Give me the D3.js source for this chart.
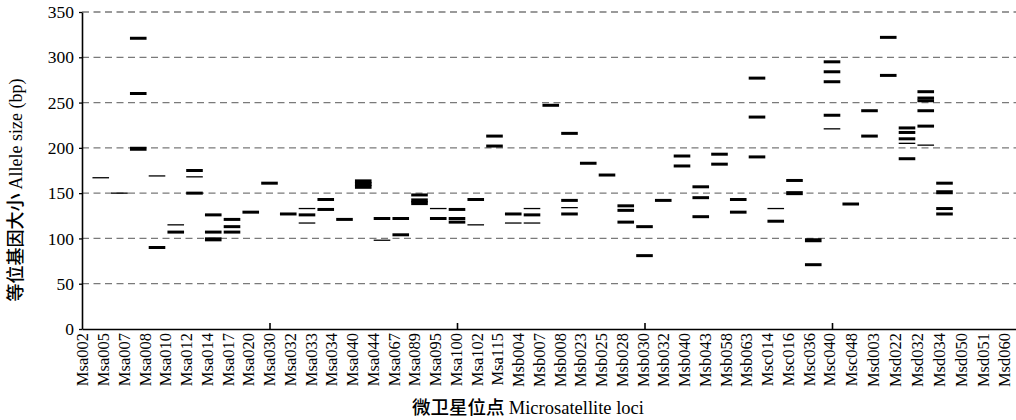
<!DOCTYPE html>
<html>
<head>
<meta charset="utf-8">
<script src="https://cdn.jsdelivr.net/npm/d3@7"></script>
<style>
  body { margin: 0; background: #fff; }
  text { font-family: "Liberation Serif", "Noto Sans CJK SC", serif; fill: #000; }
  .cjk { font-family: "Noto Sans CJK SC", sans-serif; font-weight: 500; }
</style>
</head>
<body>
<svg id="chart" width="1016" height="420"></svg>
<script>
// locus labels along the x axis
const loci = ['Msa002', 'Msa005', 'Msa007', 'Msa008', 'Msa010', 'Msa012', 'Msa014', 'Msa017', 'Msa020',
  'Msa030', 'Msa032', 'Msa033', 'Msa034', 'Msa040', 'Msa044', 'Msa067', 'Msa089', 'Msa095',
  'Msa100', 'Msa102', 'Msa115', 'Msb004', 'Msb007', 'Msb008', 'Msb023', 'Msb025', 'Msb028',
  'Msb030', 'Msb032', 'Msb040', 'Msb043', 'Msb058', 'Msb063', 'Msc014', 'Msc016', 'Msc036',
  'Msc040', 'Msc048', 'Msd003', 'Msd022', 'Msd032', 'Msd034', 'Msd050', 'Msd051', 'Msd060'];

// allele sizes (bp) per column, [size, band class] ; class 1 faint, 2 normal, 3 strong
const alleles = [
  [[167, 1]],
  [[150, 1]],
  [[321, 2], [260, 2], [199, 3]],
  [[169, 1], [90, 2]],
  [[115, 1], [107, 2]],
  [[175, 2], [168, 1], [150, 2]],
  [[126, 2], [107, 2], [99, 3]],
  [[121, 2], [113, 2], [107, 2]],
  [[129, 2]],
  [[161, 2]],
  [[127, 2]],
  [[133, 1], [126, 2], [117, 1]],
  [[143, 2], [132, 2]],
  [[121, 2]],
  [[163, 3], [160, 3], [157, 3]],
  [[122, 2], [98, 1]],
  [[122, 2], [104, 2]],
  [[148, 2], [142, 3], [139, 3]],
  [[133, 1], [122, 2]],
  [[132, 2], [122, 2], [118, 2]],
  [[143, 2], [115, 1]],
  [[213, 2], [202, 2]],
  [[127, 2], [117, 1]],
  [[133, 1], [126, 2], [117, 1]],
  [[247, 2]],
  [[216, 2], [142, 2], [134, 1], [127, 2]],
  [[183, 2]],
  [[170, 2]],
  [[136, 2], [131, 2], [118, 2]],
  [[113, 2], [81, 2]],
  [[142, 2]],
  [[191, 2], [180, 2]],
  [[157, 2], [145, 2], [124, 2]],
  [[193, 2], [182, 2]],
  [[143, 2], [129, 2]],
  [[277, 2], [234, 2], [190, 2]],
  [[133, 1], [119, 2]],
  [[164, 2], [150, 3]],
  [[98, 3], [71, 2]],
  [[295, 2], [284, 2], [273, 2], [236, 2], [221, 1]],
  [[138, 2]],
  [[241, 2], [213, 2]],
  [[322, 2], [280, 2]],
  [[222, 2], [217, 2], [210, 2], [205, 1], [188, 2]],
  [[262, 2], [255, 2], [252, 2], [241, 2], [224, 2], [203, 1]],
  [[161, 2], [151, 3], [133, 2], [127, 2]]
];

const yTicks = [0, 50, 100, 150, 200, 250, 300, 350];

const svg = d3.select('#chart');
const margin = { left: 82, top: 12, bottom: 329 };

const x = d3.scaleLinear().domain([0, 50]).range([margin.left, 1019.5]);
const y = d3.scaleLinear().domain([0, 350]).range([margin.bottom, margin.top]);
// labels were laid out on their own, not on the band positions
const xLabel = d3.scaleLinear().domain([0, 36, 44]).range([83, 830, 1005]);
const bandWidth = d3.scaleOrdinal().domain([1, 2, 3]).range([1.3, 3, 4]);

// dashed grid
svg.append('g')
  .selectAll('line')
  .data(yTicks.filter(d => d > 0))
  .join('line')
  .attr('x1', margin.left)
  .attr('x2', 1016)
  .attr('y1', d => y(d))
  .attr('y2', d => y(d))
  .attr('stroke', '#7a7a7a')
  .attr('stroke-width', 1.3)
  .attr('stroke-dasharray', '7,4.5');

// y axis
const yAxis = svg.append('g')
  .attr('transform', `translate(${margin.left},0)`)
  .call(d3.axisLeft(y).tickValues(yTicks).tickSize(3).tickSizeOuter(0));
yAxis.select('.domain').attr('stroke', '#000').attr('stroke-width', 1.6);
yAxis.selectAll('.tick line').attr('stroke', '#000').attr('stroke-width', 1.3);
yAxis.selectAll('.tick text')
  .attr('font-size', 17.5)
  .attr('font-family', '"Liberation Serif", serif')
  .attr('x', -8);

// x axis line with small inner ticks every 10 columns
const xAxis = svg.append('g')
  .attr('transform', `translate(0,${margin.bottom})`)
  .call(d3.axisTop(x).tickValues([10, 20, 30, 40]).tickSize(6).tickSizeOuter(0).tickFormat(''));
xAxis.select('.domain').attr('stroke', '#000').attr('stroke-width', 1.6);
xAxis.selectAll('.tick line').attr('stroke', '#000').attr('stroke-width', 1.6);

// locus labels
svg.append('g')
  .selectAll('text')
  .data(loci)
  .join('text')
  .attr('transform', (d, i) => `translate(${xLabel(i)},${margin.bottom + 4}) rotate(-90)`)
  .attr('text-anchor', 'end')
  .attr('dy', '0.33em')
  .attr('font-size', 16.5)
  .text(d => d);

// allele bands
const cols = svg.append('g')
  .selectAll('g')
  .data(alleles)
  .join('g');

cols.selectAll('line')
  .data((d, i) => d.map(a => ({ col: i + 1, size: a[0], cls: a[1] })))
  .join('line')
  .attr('x1', d => x(d.col) - 8.3)
  .attr('x2', d => x(d.col) + 8.3)
  .attr('y1', d => y(d.size))
  .attr('y2', d => y(d.size))
  .attr('stroke', '#000')
  .attr('stroke-width', d => bandWidth(d.cls));

// axis titles
const yt = svg.append('text')
  .attr('transform', 'translate(22,190) rotate(-90)')
  .attr('text-anchor', 'middle')
  .attr('font-size', 18);
yt.append('tspan').attr('class', 'cjk').text('等位基因大小 ');
yt.append('tspan').text('Allele size (bp)');

const xt = svg.append('text')
  .attr('x', 528)
  .attr('y', 414)
  .attr('text-anchor', 'middle')
  .attr('font-size', 18.5);
xt.append('tspan').attr('class', 'cjk').text('微卫星位点 ');
xt.append('tspan').text('Microsatellite loci');
</script>
</body>
</html>
